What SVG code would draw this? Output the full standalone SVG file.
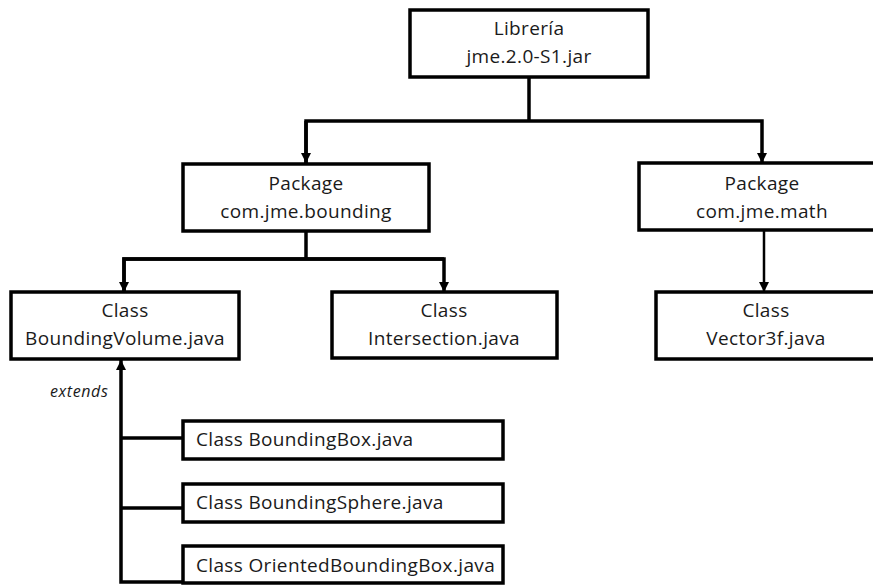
<svg xmlns="http://www.w3.org/2000/svg" width="873" height="585" viewBox="0 0 873 585">
  <style>
    .box { fill: #ffffff; stroke: #000000; stroke-width: 3.5; }
    .lbl { font-family: "Open Sans", "Liberation Sans", sans-serif; font-size: 19px; letter-spacing: 0.35px; fill: #1a1a1a; }
    .mid { text-anchor: middle; }
    .wire { fill: none; stroke: #000000; stroke-width: 3.5; stroke-linejoin: miter; stroke-linecap: butt; }
    .thin { stroke-width: 2.5; }
    .note { font-family: "Open Sans", "Liberation Sans", sans-serif; font-size: 16px; font-style: italic; letter-spacing: 0.6px; fill: #1a1a1a; }
  </style>
  <defs>
    <marker id="arrow" viewBox="0 0 10 10" refX="10" refY="5" markerWidth="10" markerHeight="10" markerUnits="userSpaceOnUse" orient="auto">
      <path d="M0,0 L10,5 L0,10 Z" fill="#000000"/>
    </marker>
  </defs>
  <rect width="873" height="585" fill="#ffffff"/>

  <!-- connectors -->
  <g id="connectors">
    <path class="wire" d="M529,77 V121"/>
    <path class="wire" d="M306,163 V121 H762 V163" marker-end="url(#arrow)"/>
    <path class="wire" d="M306,121 V163" marker-end="url(#arrow)"/>
    <path class="wire" d="M306,231 V259"/>
    <path class="wire" d="M124,292 V259 H444 V292" marker-end="url(#arrow)"/>
    <path class="wire" d="M444,259 H124 V292" marker-end="url(#arrow)"/>
    <path class="wire thin" d="M764,228 V292" marker-end="url(#arrow)"/>
    <path class="wire" d="M183,582 H121 V360" marker-end="url(#arrow)"/>
    <path class="wire" d="M121,438 H183"/>
    <path class="wire" d="M121,508 H183"/>
  </g>

  <g id="lib">
    <rect class="box" x="410" y="10" width="238" height="67"/>
    <text class="lbl mid" x="529" y="35">Librería</text>
    <text class="lbl mid" x="529" y="63">jme.2.0-S1.jar</text>
  </g>

  <g id="pkg-bounding">
    <rect class="box" x="183" y="164" width="246" height="67"/>
    <text class="lbl mid" x="306" y="190">Package</text>
    <text class="lbl mid" x="306" y="218">com.jme.bounding</text>
  </g>

  <g id="pkg-math">
    <rect class="box" x="639" y="163" width="250" height="67"/>
    <text class="lbl mid" x="762" y="190">Package</text>
    <text class="lbl mid" x="762" y="218">com.jme.math</text>
  </g>

  <g id="cls-boundingvolume">
    <rect class="box" x="11" y="292" width="228" height="67"/>
    <text class="lbl mid" x="125" y="317">Class</text>
    <text class="lbl mid" x="125" y="345">BoundingVolume.java</text>
  </g>

  <g id="cls-intersection">
    <rect class="box" x="332" y="292" width="225" height="66"/>
    <text class="lbl mid" x="444" y="317">Class</text>
    <text class="lbl mid" x="444" y="345">Intersection.java</text>
  </g>

  <g id="cls-vector3f">
    <rect class="box" x="656" y="292" width="220" height="67"/>
    <text class="lbl mid" x="766" y="317">Class</text>
    <text class="lbl mid" x="766" y="345">Vector3f.java</text>
  </g>

  <text class="note" x="50" y="397">extends</text>

  <g id="cls-boundingbox">
    <rect class="box" x="183" y="421" width="320" height="38"/>
    <text class="lbl" x="196" y="446">Class BoundingBox.java</text>
  </g>

  <g id="cls-boundingsphere">
    <rect class="box" x="183" y="484" width="320" height="38"/>
    <text class="lbl" x="196" y="509">Class BoundingSphere.java</text>
  </g>

  <g id="cls-orientedboundingbox">
    <rect class="box" x="183" y="546" width="320" height="37"/>
    <text class="lbl" x="196" y="572">Class OrientedBoundingBox.java</text>
  </g>
</svg>
